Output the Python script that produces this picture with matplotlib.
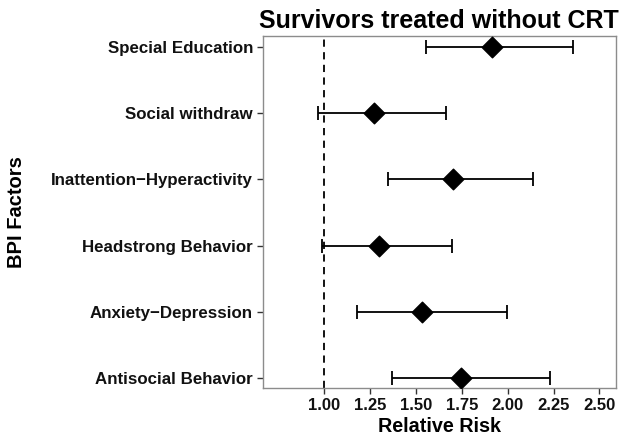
import numpy as np
import matplotlib.pyplot as plt

plt.rcParams['font.family'] = ['Liberation Sans', 'DejaVu Sans']

# BPI factors, bottom to top
factors = ["Antisocial Behavior", "Anxiety\u2212Depression", "Headstrong Behavior",
           "Inattention\u2212Hyperactivity", "Social withdraw", "Special Education"]
rr = [1.747, 1.536, 1.298, 1.700, 1.271, 1.916]
lower = [1.371, 1.178, 0.991, 1.347, 0.969, 1.554]
upper = [2.233, 1.999, 1.696, 2.139, 1.665, 2.355]
xticks = [1.00, 1.25, 1.50, 1.75, 2.00, 2.25, 2.50]

fig = plt.figure(figsize=(6.29, 4.37), dpi=100)
ax = fig.add_axes([0.4177, 0.1114, 0.979 - 0.4177, 0.918 - 0.1114])

y = np.arange(1, len(factors) + 1)
rr = np.array(rr)
err = [rr - np.array(lower), np.array(upper) - rr]

ax.axvline(1.0, color='black', linestyle=(0, (4, 3)), linewidth=1.3, zorder=1)
ax.errorbar(rr, y, xerr=err, fmt='none', ecolor='black', elinewidth=1.3,
            capsize=5, capthick=1.3, zorder=2)
ax.scatter(rr, y, marker='D', s=110, color='black', zorder=3)

ax.set_xlim(0.666, 2.589)
ax.set_ylim(0.844, 6.17)
ax.set_xticks(xticks)
ax.set_xticklabels(["%.2f" % t for t in xticks])
ax.set_yticks(y)
ax.set_yticklabels(factors)

for s in ax.spines.values():
    s.set_color('#8c8c8c')
    s.set_linewidth(1.0)
ax.tick_params(axis='both', length=4, width=1, color='#333333', pad=3)
ax.tick_params(axis='y', labelsize=12.2)
ax.tick_params(axis='x', labelsize=12)
for lab in ax.get_xticklabels() + ax.get_yticklabels():
    lab.set_fontweight('bold')
    lab.set_color('#111111')

ax.set_xlabel("Relative Risk", fontsize=14.2, fontweight='bold', labelpad=3)
ax.set_ylabel("BPI Factors", fontsize=14.5, fontweight='bold', labelpad=18)
ax.set_title("Survivors treated without CRT", fontsize=18, fontweight='bold', pad=6)

fig.savefig("out.png", dpi=100)
